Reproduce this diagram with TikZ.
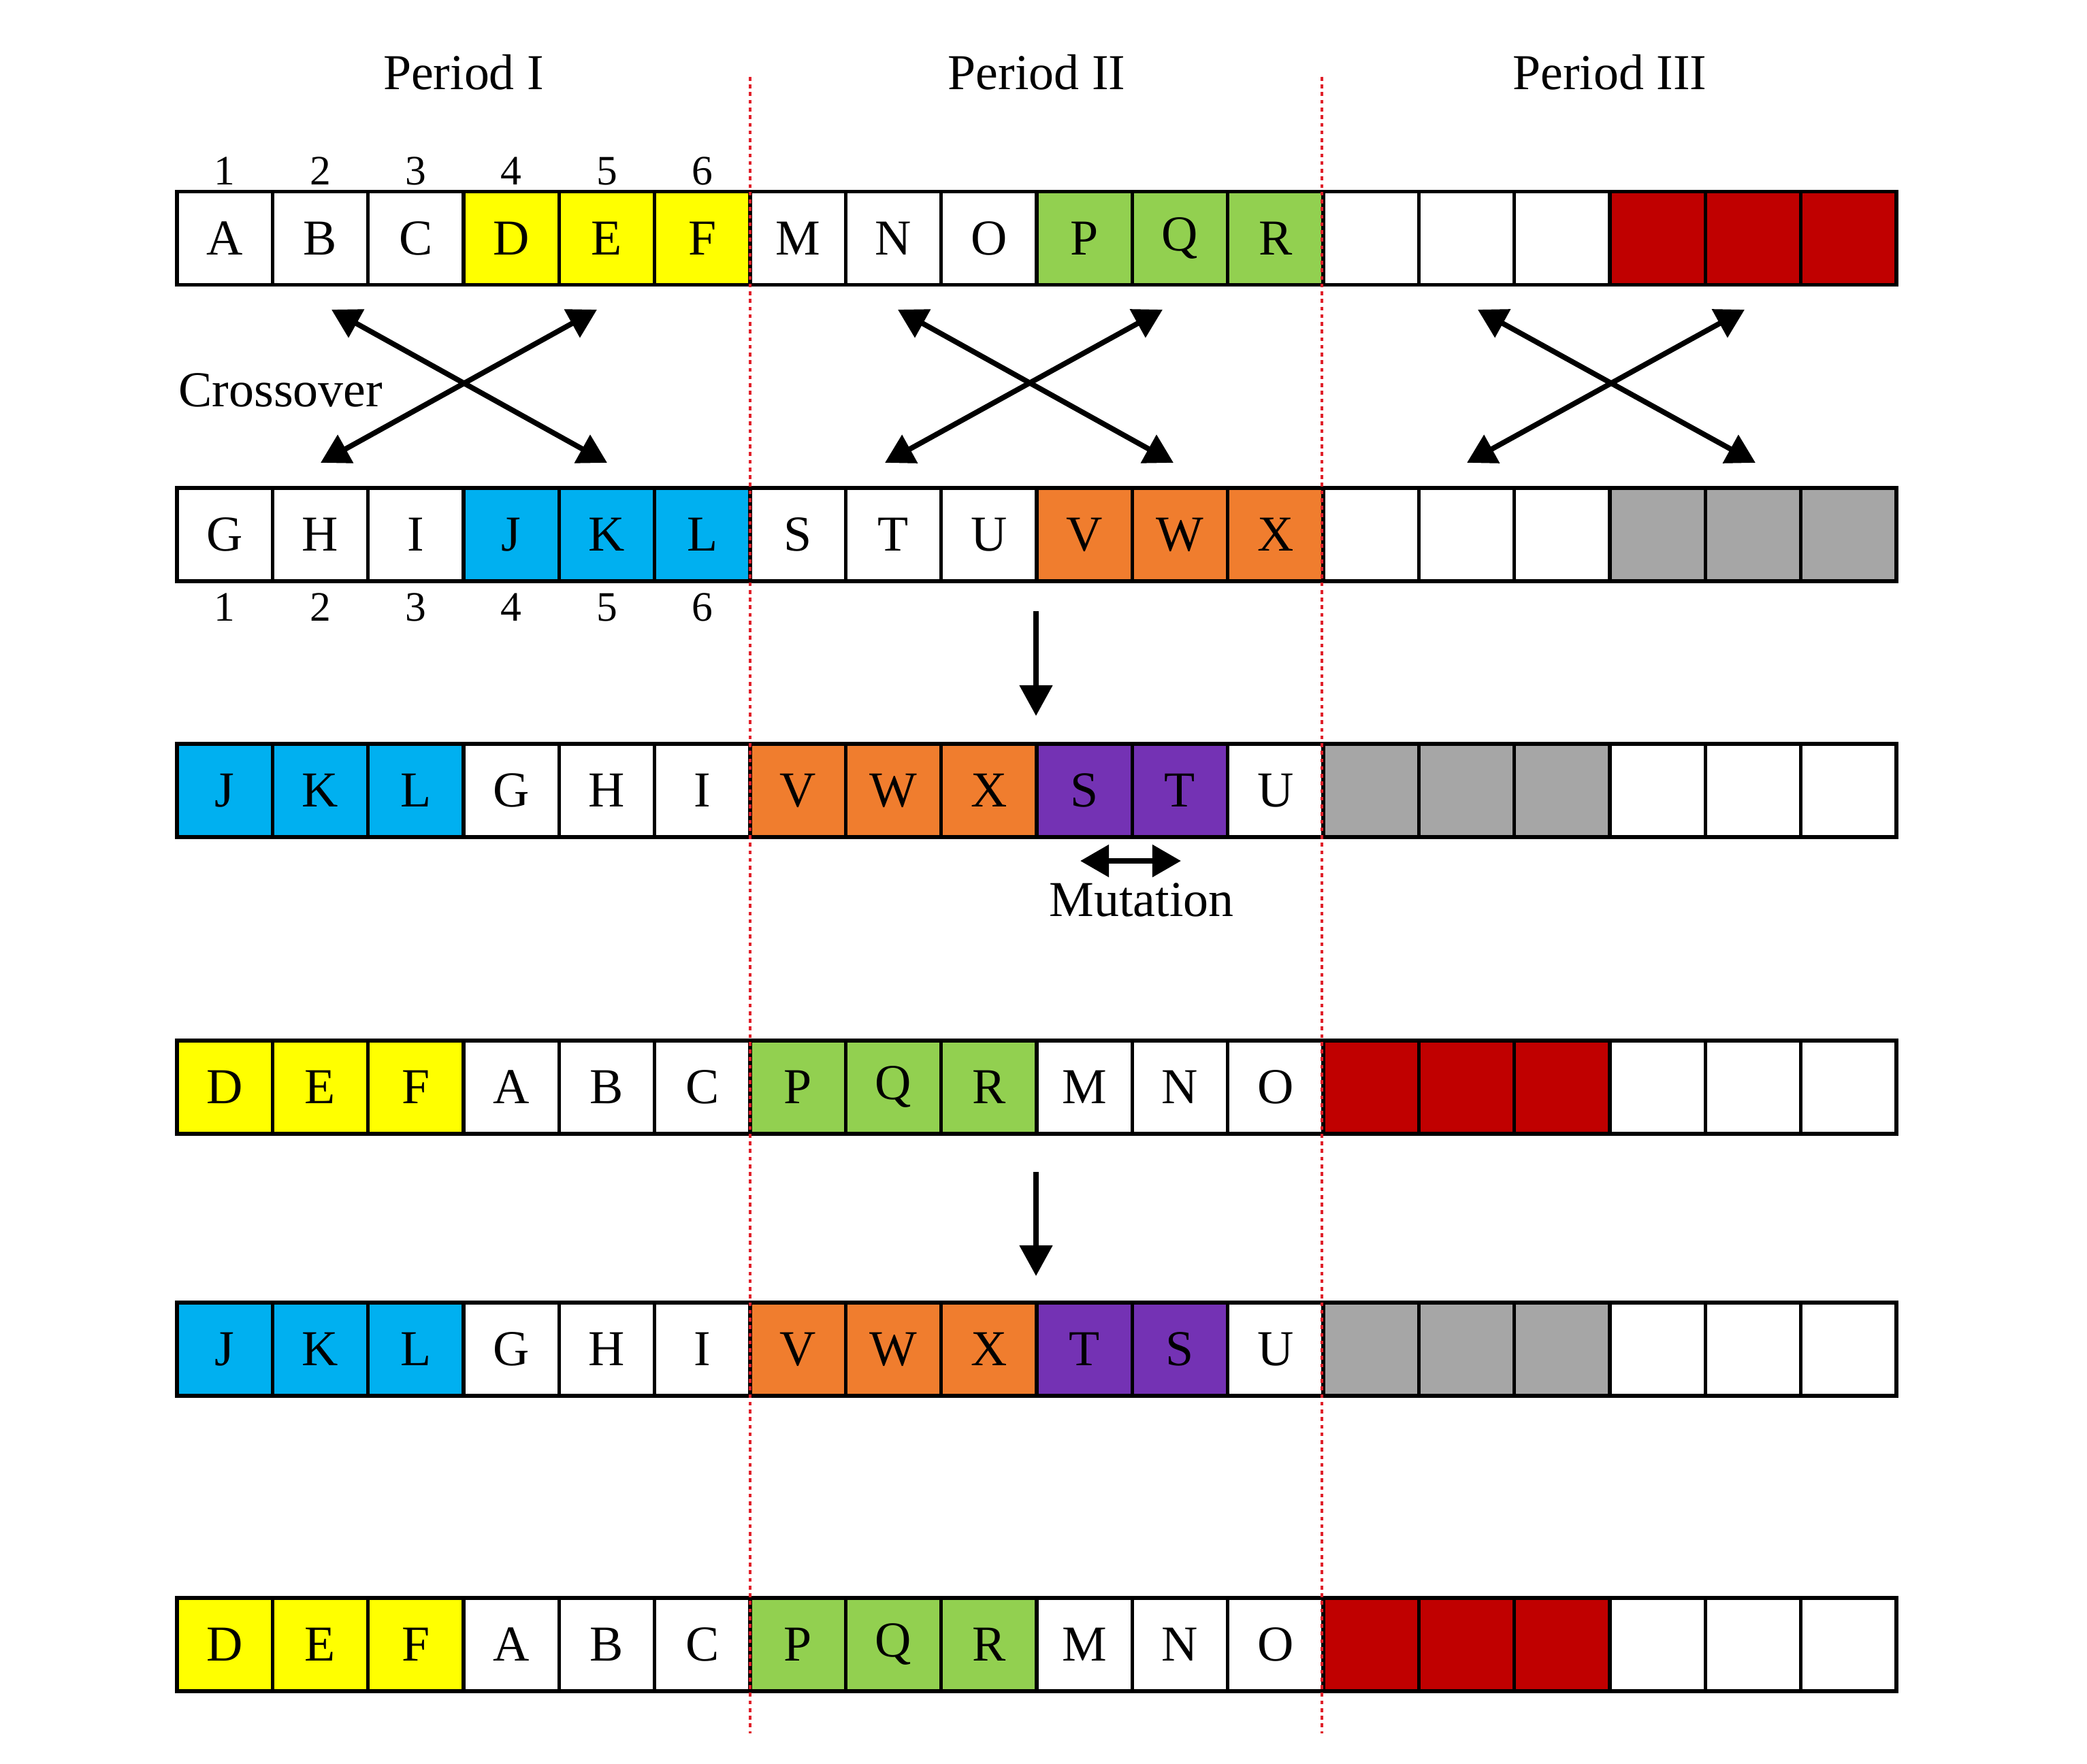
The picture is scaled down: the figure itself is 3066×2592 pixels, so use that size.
\documentclass[tikz,border=0pt]{standalone}
\usepackage{fontspec}
\setmainfont{Liberation Serif}
\usetikzlibrary{arrows.meta}
\definecolor{cellW}{HTML}{FFFFFF}
\definecolor{cellY}{HTML}{FFFF00}
\definecolor{cellG}{HTML}{92D050}
\definecolor{cellB}{HTML}{00B0F0}
\definecolor{cellO}{HTML}{F07D2E}
\definecolor{cellR}{HTML}{C00000}
\definecolor{cellS}{HTML}{A6A6A6}
\definecolor{cellP}{HTML}{7432B4}
\definecolor{divred}{HTML}{E0202A}
\newcommand\cellrow[3]{%
  \foreach \t/\c [count=\i] in {#3}{%
    \node[cellbox, fill=cell\c] (#1c\i) at ({260+(\i-0.5)*140.33},#2) {\t};
  }}
\tikzset{
  cellbox/.style={draw=black, line width=1.5pt, minimum width=1.4033cm, minimum height=1.37cm,
    inner sep=0pt, font=\fontsize{21}{24}\selectfont, text=black},
  numlab/.style={anchor=base, inner sep=0pt, font=\fontsize{17.5}{20}\selectfont},
  txtlab/.style={inner sep=0pt, font=\fontsize{21}{24}\selectfont},
  divider/.style={divred, line width=1.3pt, dash pattern=on 1.6pt off 1.6pt},
  dbl/.style={line width=2.2pt, {Triangle[length=0.42cm,width=0.46cm]}-{Triangle[length=0.42cm,width=0.46cm]}},
  sgl/.style={line width=2.2pt, -{Triangle[length=0.45cm,width=0.47cm]}},
}
\begin{document}
\begin{tikzpicture}[x=0.01cm, y=-0.01cm]
\useasboundingbox[fill=white] (0,0) rectangle (3066,2592);

% period titles
\node[txtlab, anchor=base] (p1) at (681,132) {Period I};
\node[txtlab, anchor=base] (p2) at (1523,132) {Period II};
\node[txtlab, anchor=base] (p3) at (2365,132) {Period III};

% rows of genes
\cellrow{r1}{350}{A/W,B/W,C/W,D/Y,E/Y,F/Y,M/W,N/W,O/W,P/G,Q/G,R/G,/W,/W,/W,/R,/R,/R}
\cellrow{r2}{785.5}{G/W,H/W,I/W,J/B,K/B,L/B,S/W,T/W,U/W,V/O,W/O,X/O,/W,/W,/W,/S,/S,/S}
\cellrow{r3}{1161.5}{J/B,K/B,L/B,G/W,H/W,I/W,V/O,W/O,X/O,S/P,T/P,U/W,/S,/S,/S,/W,/W,/W}
\cellrow{r4}{1597.5}{D/Y,E/Y,F/Y,A/W,B/W,C/W,P/G,Q/G,R/G,M/W,N/W,O/W,/R,/R,/R,/W,/W,/W}
\cellrow{r5}{1982.5}{J/B,K/B,L/B,G/W,H/W,I/W,V/O,W/O,X/O,T/P,S/P,U/W,/S,/S,/S,/W,/W,/W}
\cellrow{r6}{2416.5}{D/Y,E/Y,F/Y,A/W,B/W,C/W,P/G,Q/G,R/G,M/W,N/W,O/W,/R,/R,/R,/W,/W,/W}

% position numbers
\foreach \i in {1,...,6}{
  \node[numlab] (na\i) at ({260+(\i-0.5)*140.33},272) {\i};
  \node[numlab] (nb\i) at ({260+(\i-0.5)*140.33},913) {\i};
}

% period dividers
\coordinate (d1t) at (1102,113); \coordinate (d1b) at (1102,2547);
\coordinate (d2t) at (1942,113); \coordinate (d2b) at (1942,2547);
\draw[divider] (d1t) -- (d1b);
\draw[divider] (d2t) -- (d2b);

% crossover arrows
\node[txtlab, anchor=base west] (cross) at (262,598) {Crossover};
\coordinate (a1) at (487,455); \coordinate (a2) at (892,680);
\coordinate (a3) at (877,455); \coordinate (a4) at (471,680);
\coordinate (b1) at (1319,455); \coordinate (b2) at (1724,680);
\coordinate (b3) at (1708,455); \coordinate (b4) at (1300,680);
\coordinate (c1) at (2171,455); \coordinate (c2) at (2579,680);
\coordinate (c3) at (2563,455); \coordinate (c4) at (2155,680);
\draw[dbl] (a1) -- (a2);
\draw[dbl] (a3) -- (a4);
\draw[dbl] (b1) -- (b2);
\draw[dbl] (b3) -- (b4);
\draw[dbl] (c1) -- (c2);
\draw[dbl] (c3) -- (c4);

% down arrows
\coordinate (s1) at (1522,898); \coordinate (e1) at (1522,1052);
\coordinate (s2) at (1522,1722); \coordinate (e2) at (1522,1875);
\draw[sgl] (s1) -- (e1);
\draw[sgl] (s2) -- (e2);

% mutation
\coordinate (m1) at (1587,1265); \coordinate (m2) at (1735,1265);
\draw[dbl] (m1) -- (m2);
\node[txtlab, anchor=base] (mut) at (1677,1347) {Mutation};
\end{tikzpicture}
\end{document}
